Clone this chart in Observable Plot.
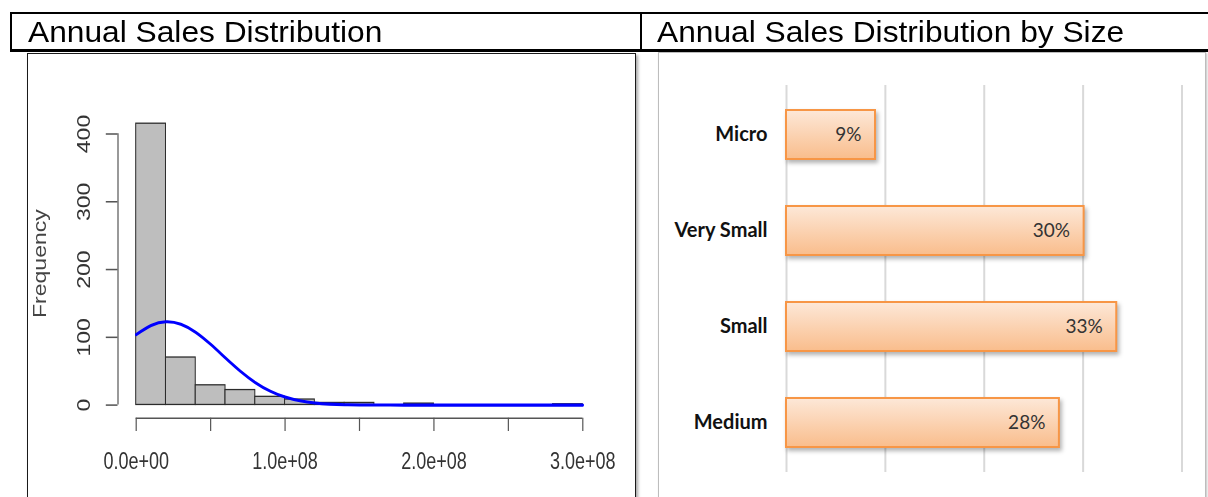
<!DOCTYPE html>
<html><head><meta charset="utf-8">
<script src="https://cdn.jsdelivr.net/npm/d3@7"></script>
<script src="https://cdn.jsdelivr.net/npm/@observablehq/plot@0.6"></script>
<style>
html,body{margin:0;padding:0;background:#fff;}
body{width:1208px;height:497px;overflow:hidden;position:relative;font-family:"Liberation Sans",Arial,sans-serif;}
.ln{position:absolute;background:#000;}
.title{position:absolute;font-size:29.5px;line-height:29.5px;color:#000;white-space:nowrap;transform:scaleX(1.075);transform-origin:0 0;}
#leftBox{position:absolute;left:27px;top:52.5px;width:607px;height:460px;border:1.5px solid #1a1a1a;box-shadow:2px 2px 3px rgba(0,0,0,0.35);overflow:hidden;background:#fff;}
#leftInner{position:absolute;left:0;top:0;transform:scaleY(1.28);transform-origin:0 0;}
#rightBox{position:absolute;left:658px;top:52px;width:546px;height:460px;border:1px solid #bdbdbd;box-shadow:1px 1px 2px rgba(0,0,0,0.25);overflow:hidden;background:#fff;}
</style></head>
<body>
<div class="ln" style="left:10px;top:12px;width:1200px;height:2px"></div>
<div class="ln" style="left:10px;top:49px;width:1200px;height:2.5px"></div>
<div class="ln" style="left:10px;top:12px;width:2px;height:39px"></div>
<div class="ln" style="left:640px;top:12px;width:2px;height:39px"></div>
<div class="title" style="left:28px;top:16.7px">Annual Sales Distribution</div>
<div class="title" style="left:657px;top:16.7px">Annual Sales Distribution by Size</div>
<div id="leftBox"><div id="leftInner"></div></div>
<div id="rightBox"></div>
<script>
// ---------- Left: histogram of annual sales ----------
const binStarts = [0, 2e7, 4e7, 6e7, 8e7, 1e8, 1.2e8, 1.4e8, 1.6e8, 1.8e8, 2.0e8, 2.2e8, 2.4e8, 2.6e8, 2.8e8];
const binEnds   = [2e7, 4e7, 6e7, 8e7, 1e8, 1.2e8, 1.4e8, 1.6e8, 1.8e8, 2.0e8, 2.2e8, 2.4e8, 2.6e8, 2.8e8, 3.0e8];
const binCounts = [415, 70, 29, 22, 12, 8, 3, 3, 0, 2, 0, 0, 0, 0, 1];
const curveX = [0, 1e7, 2e7, 3e7, 4e7, 5e7, 6e7, 7e7, 8e7, 9e7, 1e8, 1.1e8, 1.2e8, 1.3e8, 1.4e8, 1.5e8, 1.6e8, 1.8e8, 2.0e8, 2.5e8, 3.0e8];
const curveY = [104, 117.5, 123, 119.3, 107.4, 89.7, 69.5, 50, 33.3, 20.6, 11.8, 6.3, 3.1, 1.4, 0.6, 0.2, 0.1, 0, 0, 0, 0];
const xTickAll = [0, 5e7, 1e8, 1.5e8, 2e8, 2.5e8, 3e8];
const xTickValues = [0, 1e8, 2e8, 3e8];
const xTickLabels = ["0.0e+00", "1.0e+08", "2.0e+08", "3.0e+08"];
const yTickValues = [0, 100, 200, 300, 400];
const yTickLabels = ["0", "100", "200", "300", "400"];
const yTitle = "Frequency";

// ---------- Right: bar chart by size ----------
const sizeCats = ["Micro", "Very Small", "Small", "Medium"];
const sizeShares = [9.0, 30.1, 33.4, 27.6];
const sizeLabels = ["9%", "30%", "33%", "28%"];
const gridTicks = [0, 10, 20, 30, 40];

const bins = binStarts.map((s, i) => ({x0: s, x1: binEnds[i], count: binCounts[i]}));
const curve = curveX.map((x, i) => ({x, y: curveY[i]}));

const left = Plot.plot({
  width: 607, height: 350,
  marginLeft: 89.5, marginRight: 52.7, marginTop: 62, marginBottom: 65.9,
  style: {fontFamily: '"Liberation Sans", Arial, sans-serif', fontSize: "18px", color: "#333", background: "transparent", overflow: "visible"},
  x: {domain: [0, 3e8], insetLeft: 18.2, axis: null},
  y: {domain: [0, 400], insetBottom: 10.3, axis: null},
  marks: [
    Plot.rectY(bins, {x1: "x0", x2: "x1", y: "count", fill: "#bebebe", stroke: "#2b2b2b", strokeWidth: 1}),
    Plot.line(curve, {x: "x", y: "y", stroke: "#0000ff", strokeWidth: 2.4, curve: "natural"}),
    Plot.ruleY([0], {x1: 0, x2: 3e8, dy: 10.3, stroke: "#555", strokeWidth: 1.2}),
    Plot.axisX({ticks: xTickAll, tickSize: 10.4, tickFormat: () => "", stroke: "#555", strokeWidth: 1.2, label: null}),
    Plot.axisX({ticks: xTickValues, tickSize: 0, tickPadding: 26.8, tickFormat: d => xTickLabels[xTickValues.indexOf(d)], fill: "#333", fontSize: 18, label: null}),
    Plot.ruleX([0], {y1: 0, y2: 400, dx: -18.2, stroke: "#555", strokeWidth: 1.2}),
    Plot.axisY({ticks: yTickValues, tickSize: 11.7, tickFormat: () => "", stroke: "#555", strokeWidth: 1.2, label: null}),
    Plot.text(yTickValues, {y: d => d, text: (d, i) => yTickLabels[i], frameAnchor: "left", dx: -33.5, rotate: -90, textAnchor: "middle", lineAnchor: "middle", fill: "#333", fontSize: 18}),
    Plot.text([yTitle], {text: d => d, frameAnchor: "left", dx: -78, dy: -9.8, rotate: -90, textAnchor: "middle", lineAnchor: "middle", fill: "#444", fontSize: 18})
  ]
});
document.getElementById("leftInner").appendChild(left);

const sizeData = sizeCats.map((c, i) => ({cat: c, share: sizeShares[i], label: sizeLabels[i]}));
const right = Plot.plot({
  width: 546, height: 444,
  marginLeft: 127, marginRight: 23.5, marginTop: 32, marginBottom: 25,
  style: {fontFamily: 'Lato, "Open Sans", sans-serif', fontSize: "19px", color: "#222", background: "transparent", overflow: "visible"},
  x: {domain: [0, 40], axis: null},
  y: {domain: sizeCats, paddingInner: 0.49, paddingOuter: 0.245, axis: null},
  marks: [
    Plot.gridX({ticks: gridTicks, stroke: "#d9d9d9", strokeOpacity: 1, strokeWidth: 2}),
    Plot.barX(sizeData, {x: "share", y: "cat", fill: "#fbcfab", stroke: "#f79646", strokeWidth: 2}),
    Plot.text(sizeData, {x: "share", y: "cat", text: "label", textAnchor: "end", dx: -14, fill: "#333", fontSize: 19}),
    Plot.axisY({tickSize: 0, tickPadding: 19, fontWeight: "bold", fontSize: 20, fill: "#111", label: null})
  ]
});
const ns = "http://www.w3.org/2000/svg";
const defs = document.createElementNS(ns, "defs");
defs.innerHTML = '<linearGradient id="barGrad" x1="0" y1="0" x2="0" y2="1"><stop offset="0" stop-color="#fde8d8"/><stop offset="1" stop-color="#f9bd8c"/></linearGradient>';
right.insertBefore(defs, right.firstChild);
const barG = right.querySelector('g[aria-label="bar"]');
if (barG) {
  barG.setAttribute("fill", "url(#barGrad)");
  barG.querySelectorAll("rect").forEach(r => { r.setAttribute("fill", "url(#barGrad)"); r.style.filter = "drop-shadow(2px 3px 2px rgba(0,0,0,0.3))"; });
}
document.getElementById("rightBox").appendChild(right);
</script>
</body></html>
